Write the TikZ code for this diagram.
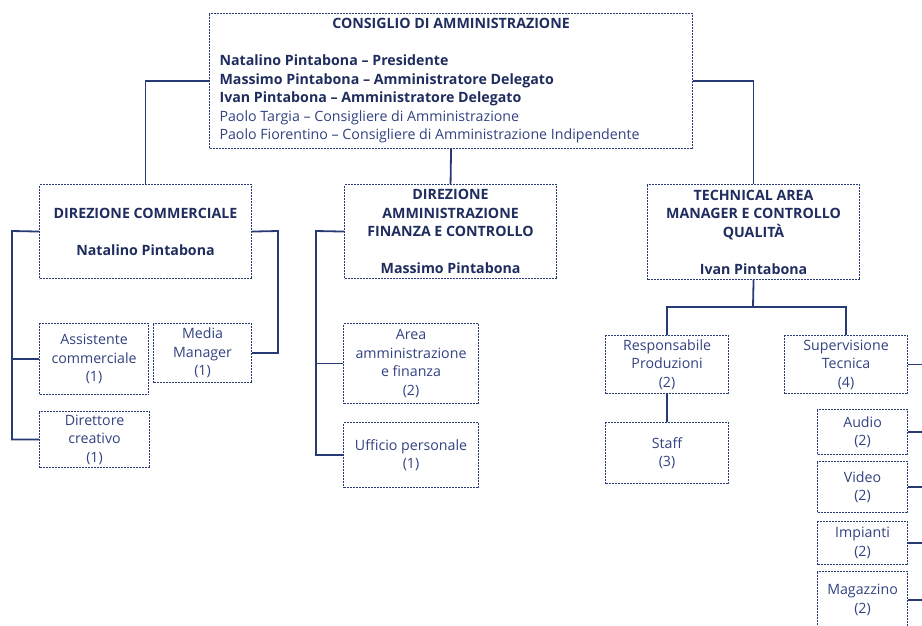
\documentclass[tikz,border=0pt]{standalone}
\usepackage{fontspec}
\setmainfont{Open Sans}
\usepackage{tikz}

\definecolor{orgnavy}{RGB}{31,44,94}
\definecolor{orgtext}{RGB}{50,66,128}
\definecolor{orgline}{RGB}{40,58,115}

\tikzset{
  orgunit/.style={draw=orgline, dash pattern=on 2pt off 1pt, line width=1.1pt,
    text=orgtext, align=center, inner sep=0pt, anchor=north west, font=\orgfontsize},
  orghead/.style={orgunit, text=orgnavy, font=\orgfontsize\bfseries},
  orglink/.style={draw=orgline, line width=1.8pt}
}

\begin{document}
\begin{tikzpicture}[x=1pt,y=-1pt]
    \providecommand{\orgfontsize}{\fontsize{14.2}{18.5}\selectfont}
    \pgfmathsetmacro{\linegap}{18.5}
    \pgfmathsetmacro{\edgex}{935}
    \clip (0,0) rectangle (922,625);
    % board
    \node[orgunit, text=orgnavy, align=flush left, text width=463, inner xsep=10,
      minimum width=483, minimum height=135] (cda) at (209,13)
    {
    {\bfseries\hfill CONSIGLIO DI AMMINISTRAZIONE\hfill\null}\\[\linegap pt]
    \textbf{Natalino Pintabona -- Presidente}\\
    \textbf{Massimo Pintabona -- Amministratore Delegato}\\
    \textbf{Ivan Pintabona -- Amministratore Delegato}\\
    {\color{orgtext}Paolo Targia -- Consigliere di Amministrazione}\\
    {\color{orgtext}Paolo Fiorentino -- Consigliere di Amministrazione Indipendente}
    };
    % directions
    \node[orghead, minimum width=212, minimum height=94] (dc) at (39,184)
      {DIREZIONE COMMERCIALE\\[\linegap pt]Natalino Pintabona};
    \node[orghead, minimum width=212, minimum height=94] (dafc) at (344,184)
      {DIREZIONE\\AMMINISTRAZIONE\\FINANZA E CONTROLLO\\[\linegap pt]Massimo Pintabona};
    \node[orghead, minimum width=212, minimum height=95] (tam) at (647,184)
      {TECHNICAL AREA\\MANAGER E CONTROLLO\\QUALITÀ\\[\linegap pt]Ivan Pintabona};
    % offices
    \node[orgunit, minimum width=109, minimum height=71] (assist) at (39,323) {Assistente\\commerciale\\(1)};
    \node[orgunit, minimum width=98, minimum height=59] (media) at (153,323) {Media\\Manager\\(1)};
    \node[orgunit, minimum width=110, minimum height=56] (dircre) at (39,411) {Direttore\\creativo\\(1)};
    \node[orgunit, minimum width=135, minimum height=80] (areaaf) at (343,323) {Area\\amministrazione\\e finanza\\(2)};
    \node[orgunit, minimum width=135, minimum height=65] (uffpers) at (343,422) {Ufficio personale\\(1)};
    \node[orgunit, minimum width=123, minimum height=58] (respprod) at (605,335) {Responsabile\\Produzioni\\(2)};
    \node[orgunit, minimum width=123, minimum height=61] (staff) at (605,422) {Staff\\(3)};
    \node[orgunit, minimum width=123, minimum height=58] (supervis) at (784,335) {Supervisione\\Tecnica\\(4)};
    \node[orgunit, minimum width=90, minimum height=45] (audio) at (817,409) {Audio\\(2)};
    \node[orgunit, minimum width=90, minimum height=51] (video) at (817,461) {Video\\(2)};
    \node[orgunit, minimum width=90, minimum height=43] (impianti) at (817,521) {Impianti\\(2)};
    \node[orgunit, minimum width=90, minimum height=57] (magazz) at (817,571) {Magazzino\\(2)};
    % connectors
    \coordinate (dctrunk) at (12,231);
    \coordinate (dcright) at (278,231);
    \coordinate (afctrunk) at (316,231);
    \coordinate (tamjoin) at (753,307);
    \coordinate (edge) at (\edgex,0);
    \draw[orglink] (cda.west) -| (dc.north);
    \draw[orglink] (cda.east) -| (tam.north);
    \draw[orglink] (cda.south) -- (dafc.north);
    \draw[orglink] (dc.west) -- (dctrunk) |- (dircre.west);
    \draw[orglink] (assist.west) -- (assist.west -| dctrunk);
    \draw[orglink] (dc.east) -- (dcright) |- (media.east);
    \draw[orglink] (dafc.west) -- (afctrunk) |- (uffpers.west);
    \draw[orglink] (areaaf.west) -- (areaaf.west -| afctrunk);
    \draw[orglink] (tam.south) -- (tamjoin) -| (respprod.north);
    \draw[orglink] (tamjoin) -| (supervis.north);
    \draw[orglink] (respprod.south) -- (staff.north);
    \foreach \n in {supervis,audio,video,impianti,magazz}
      \draw[orglink] (\n.east) -- (\n.east -| edge);
\end{tikzpicture}
\end{document}
